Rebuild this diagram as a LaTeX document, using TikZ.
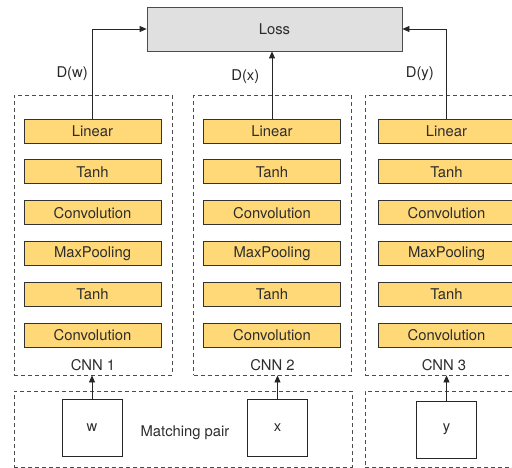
\documentclass[tikz,border=0pt]{standalone}
\usepackage{fontspec}
\setmainfont{TeX Gyre Heros}
\usetikzlibrary{positioning,arrows.meta}
\definecolor{nnyellow}{RGB}{255,216,120}
\definecolor{nngray}{RGB}{224,224,224}
\definecolor{nntext}{RGB}{45,45,45}

\begin{document}
\begin{tikzpicture}[x=1pt,y=-1pt,line width=0.8pt,
  font=\fontsize{14.8}{16}\selectfont,text=nntext,
  layer/.style={draw=black!80,fill=nnyellow,minimum width=137pt,minimum height=24pt,inner sep=0pt},
  group/.style={draw=black!70,dash pattern=on 4pt off 3pt,minimum width=158pt,inner sep=0pt},
  inbox/.style={draw=black!85,fill=white,minimum width=60pt,minimum height=57pt,inner sep=0pt},
  arr/.style={-{Triangle[length=7pt,width=6pt]},black!85}]
\useasboundingbox (0,0) rectangle (512,468);
\clip (0,0) rectangle (512,468);

% Loss
\node[draw=black!70,fill=nngray,minimum width=255pt,minimum height=44pt] (loss) at (274.5,29) {Loss};

% The three CNNs
\foreach \c/\x/\g in {1/92.5/93,2/272/272.5,3/446.5/444} {
  \node[group,minimum height=280pt] (cnn\c) at (\g,235) {};
  \node (lab\c) at (\g,365) {CNN \c};
  \foreach \t [count=\i] in {Linear,Tanh,Convolution,MaxPooling,Tanh,Convolution}
    \node[layer] (l\c-\i) at (\x,{131+40.9*(\i-1)}) {\t};
}

% Inputs
\node[group,minimum width=338pt,minimum height=76pt] (pair) at (183,429) {};
\node[group,minimum height=76pt] (single) at (444,429) {};
\node[inbox] (w) at (92,427.5) {w};
\node[inbox] (x) at (277.5,427.5) {x};
\node[inbox] (y) at (446.5,429.5) {y};
\node (mp) at (185,433) {Matching pair};

% Arrows
\draw[arr] (w.north) -- (w.north |- cnn1.south);
\draw[arr] (x.north) -- (x.north |- cnn2.south);
\draw[arr] (y.north) -- (y.north |- cnn3.south);
\draw[arr] (l1-1.north) |- (loss.west) node[pos=0.25,left=1pt] {D(w)};
\draw[arr] (l2-1.north) -- (l2-1.north |- loss.south) node[pos=0.63,left=9pt] {D(x)};
\draw[arr] (l3-1.north) |- (loss.east) node[pos=0.25,left=9pt] {D(y)};
\end{tikzpicture}
\end{document}
